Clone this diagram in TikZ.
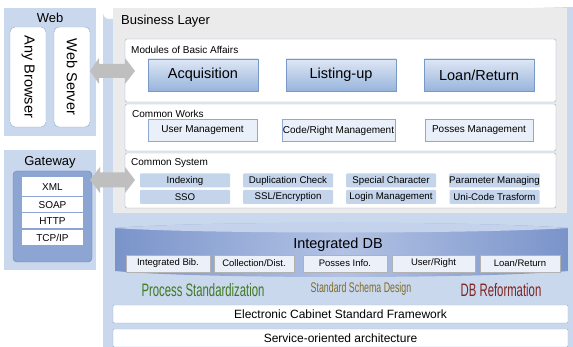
\documentclass[tikz,border=0pt]{standalone}
\usepackage{fontspec}
\setmainfont{Liberation Sans}
\newfontfamily\narrowfont[FakeStretch=0.63]{Liberation Sans}
\definecolor{panelblue}{RGB}{202,216,238}
\definecolor{graypanel}{RGB}{235,235,235}
\definecolor{borderblue}{RGB}{141,169,208}
\definecolor{btntop}{RGB}{222,231,245}
\definecolor{btnbottom}{RGB}{152,180,220}
\definecolor{btnborder}{RGB}{120,152,200}
\definecolor{workfill}{RGB}{234,240,249}
\definecolor{sysfill}{RGB}{196,212,235}
\definecolor{gwblue}{RGB}{141,165,210}
\definecolor{dbdark}{RGB}{122,148,202}
\definecolor{dblight}{RGB}{178,194,228}
\definecolor{dbtop}{RGB}{196,210,236}
\definecolor{dbitem}{RGB}{236,241,249}
\definecolor{arrowgray}{RGB}{191,191,191}
\definecolor{procgreen}{RGB}{62,122,30}
\definecolor{schemaolive}{RGB}{128,108,40}
\definecolor{reformred}{RGB}{128,36,30}

\begin{document}
\begin{tikzpicture}[x=1pt,y=-1pt,
    panel/.style={fill=panelblue},
    side/.style={draw=borderblue, fill=white, rounded corners=5pt, minimum width=100pt, minimum height=36pt, rotate=-90, font=\fontsize{14.5}{16}\selectfont},
    group/.style={draw=borderblue, fill=white, rounded corners=2pt},
    label/.style={anchor=west, inner sep=0pt, font=\fontsize{10}{12}\selectfont},
    module/.style={draw=btnborder, top color=btntop, bottom color=btnbottom, minimum width=110pt, minimum height=32pt, font=\fontsize{14.5}{16}\selectfont},
    work/.style={draw=borderblue, fill=workfill, minimum width=109pt, minimum height=22pt, inner sep=0pt, font=\fontsize{10}{12}\selectfont},
    sysbox/.style={fill=sysfill, rounded corners=1pt, minimum width=90pt, minimum height=14pt, inner sep=0pt, font=\fontsize{9.7}{11}\selectfont},
    proto/.style={fill=white, minimum width=61pt, inner sep=0pt, font=\fontsize{10}{12}\selectfont},
    dbbox/.style={draw=gray!60, fill=dbitem, minimum width=82pt, minimum height=17pt, inner sep=0pt, font=\fontsize{9.5}{11}\selectfont},
    bar/.style={draw=borderblue, fill=white, rounded corners=1pt, minimum width=455pt, inner sep=0pt, font=\fontsize{12}{14}\selectfont},
    link/.style={fill=arrowgray}]

    \useasboundingbox (0,0) rectangle (573,347);
    \fill[white] (0,0) rectangle (573,347);

    % panels
    \fill[panel] (4,8) rectangle (96,136);
    \fill[panel] (4,150) rectangle (96,270);
    \fill[panel] (573,347) -- (103,347) -- (103,13) arc[start angle=180, end angle=90, radius=6] -- (573,7) -- cycle;
    \fill[graypanel] (113,8) rectangle (567,213);

    % web
    \node[font=\fontsize{13}{15}\selectfont] at (50,18) (web) {Web};
    \node[side] at (28,77) (browser) {Any Browser};
    \node[side] at (72,77) (server) {Web Server};

    % gateway
    \node[font=\fontsize{13}{15}\selectfont] at (50,162) (gateway) {Gateway};
    \fill[gwblue, draw=gwblue!80!black, rounded corners=4pt] (13,171) rectangle (92,262);
    \node[proto, minimum height=19pt] at (52.5,187) (xml) {XML};
    \node[proto, minimum height=15pt] at (52.5,205) (soap) {SOAP};
    \node[proto, minimum height=15pt] at (52.5,221) (http) {HTTP};
    \node[proto, minimum height=15pt] at (52.5,237.5) (tcpip) {TCP/IP};

    % business layer
    \node[anchor=west, inner sep=0pt, font=\fontsize{13}{15}\selectfont] at (121,21) (business) {Business Layer};

    \draw[group] (125,39) rectangle (556,102);
    \node[label] at (131,50) (modules) {Modules of Basic Affairs};
    \node[module] at (203,75) (acquisition) {Acquisition};
    \node[module] at (341,75) (listing) {Listing-up};
    \node[module] at (479,75) (loan) {Loan/Return};

    \draw[group] (125,104) rectangle (556,151);
    \node[label] at (132,114) (works) {Common Works};
    \node[work] at (202.5,130.5) (user) {User Management};
    \node[work, minimum width=113pt] at (338.5,130.5) (code) {Code/Right Management};
    \node[work, minimum width=108pt] at (479,130.5) (posses) {Posses Management};

    \draw[group] (125,153) rectangle (556,208);
    \node[label] at (131,163) (system) {Common System};
    \node[sysbox] at (185,180.5) (indexing) {Indexing};
    \node[sysbox] at (288,180.5) (duplication) {Duplication Check};
    \node[sysbox] at (391,180.5) (special) {Special Character};
    \node[sysbox] at (494.5,180.5) (parameter) {Parameter Managing};
    \node[sysbox] at (185,197) (sso) {SSO};
    \node[sysbox] at (288,197) (ssl) {SSL/Encryption};
    \node[sysbox] at (391,197) (login) {Login Management};
    \node[sysbox] at (494.5,197) (unicode) {Uni-Code Trasform};

    % links
    \fill[link, shift={(0,71)}] (90,0) -- (99,-13) -- (99,-7) -- (125,-7) -- (125,-13) -- (135,0) -- (125,13) -- (125,7) -- (99,7) -- (99,13) -- cycle;
    \fill[link, shift={(0,180)}] (90,0) -- (100,-13) -- (100,-7.5) -- (125,-7.5) -- (125,-13) -- (135,0) -- (125,13) -- (125,7.5) -- (100,7.5) -- (100,13) -- cycle;

    % integrated db
    \shade[left color=dbdark, right color=dbdark, middle color=dblight] (115,228) .. controls (200,221) and (480,221) .. (568,228) -- (568,271) .. controls (480,279) and (200,279) .. (115,271) -- cycle;
    \fill[dbtop] (115,228) .. controls (200,221) and (480,221) .. (568,228) .. controls (480,234) and (200,234) .. (115,228) -- cycle;
    \node[font=\fontsize{14.5}{16}\selectfont] at (338,245) (db) {Integrated DB};
    \node[dbbox, minimum width=84pt] at (168,263.5) (bib) {Integrated Bib.};
    \node[dbbox, minimum width=80pt] at (254,263.5) (collection) {Collection/Dist.};
    \node[dbbox, minimum width=84pt] at (345,263.5) (info) {Posses Info.};
    \node[dbbox, minimum width=83pt] at (433.5,263.5) (right) {User/Right};
    \node[dbbox, minimum width=80pt] at (520,263.5) (dbloan) {Loan/Return};

    \node[text=procgreen, font=\narrowfont\fontsize{18}{20}\selectfont] at (203,290) (process) {Process Standardization};
    \node[text=schemaolive, font=\narrowfont\fontsize{14}{16}\selectfont] at (361,289) (schema) {Standard Schema Design};
    \node[text=reformred, font=\narrowfont\fontsize{18}{20}\selectfont] at (501,290) (reform) {DB Reformation};

    \node[bar, minimum height=18pt] at (340.5,314) (cabinet) {Electronic Cabinet Standard Framework};
    \node[bar, minimum height=18pt] at (340.5,338) (soa) {Service-oriented architecture};

\end{tikzpicture}
\end{document}
